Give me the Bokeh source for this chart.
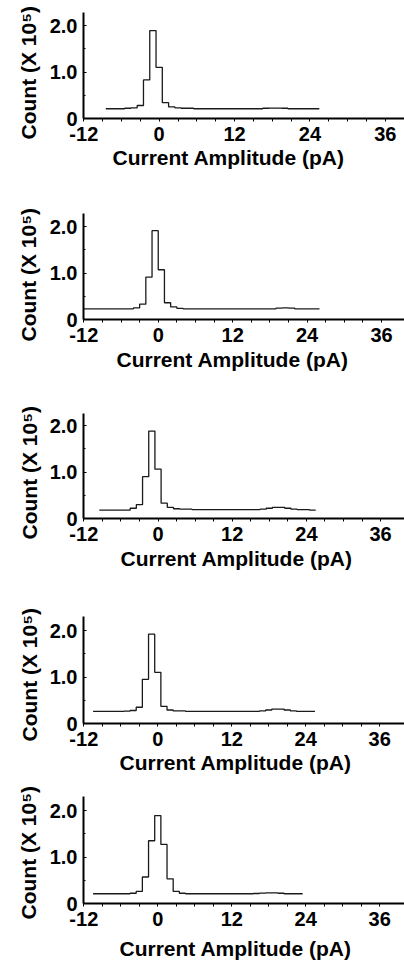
import numpy as np
from bokeh.plotting import figure
from bokeh.models import FixedTicker, Range1d, Title
from bokeh.layouts import column
from bokeh.embed import file_html
from bokeh.resources import INLINE

# ---------------- data ----------------
x_tick_values = [-12, 0, 12, 24, 36]
x_tick_labels = {-12: "-12", 0: "0", 12: "12", 24: "24", 36: "36"}
x_minor_values = [-9, -6, -3, 3, 6, 9, 15, 18, 21, 27, 30, 33]
y_tick_values = [0, 1, 2]
y_minor_values = [0.5, 1.5]
y_tick_labels = {0: "0", 1: "1.0", 2: "2.0"}
x_title = "Current Amplitude (pA)"
y_title = "Count (X 10\u2075)"

# histogram counts (x 10^5) in 1 pA bins; first bin edge in pA
p1_first_edge = -8.5
p1_counts = [0.21, 0.21, 0.21, 0.22, 0.23, 0.28, 0.83, 1.89, 1.10, 0.34,
             0.25, 0.23, 0.22, 0.22, 0.21, 0.21, 0.21, 0.21, 0.21, 0.21,
             0.21, 0.21, 0.21, 0.21, 0.21, 0.22, 0.225, 0.225, 0.22, 0.21,
             0.21, 0.21, 0.21, 0.21]

p2_first_edge = -12.0
p2_counts = [0.23, 0.23, 0.23, 0.23, 0.23, 0.23, 0.23, 0.23, 0.25, 0.33,
             0.91, 1.91, 1.07, 0.36, 0.27, 0.24, 0.23, 0.23, 0.23, 0.23,
             0.23, 0.23, 0.23, 0.23, 0.23, 0.23, 0.23, 0.23, 0.23, 0.23,
             0.23, 0.245, 0.25, 0.245, 0.23, 0.23, 0.23, 0.23]

p3_first_edge = -9.5
p3_counts = [0.18, 0.18, 0.18, 0.18, 0.18, 0.22, 0.30, 0.90, 1.88, 1.06,
             0.33, 0.24, 0.21, 0.20, 0.20, 0.19, 0.19, 0.19, 0.19, 0.19,
             0.19, 0.19, 0.19, 0.19, 0.19, 0.19, 0.20, 0.22, 0.24, 0.24,
             0.22, 0.20, 0.19, 0.19, 0.18]

p4_first_edge = -10.5
p4_counts = [0.26, 0.26, 0.26, 0.26, 0.26, 0.265, 0.28, 0.35, 0.95, 1.92,
             1.10, 0.37, 0.29, 0.27, 0.27, 0.26, 0.26, 0.26, 0.26, 0.26,
             0.26, 0.26, 0.26, 0.26, 0.26, 0.26, 0.26, 0.27, 0.29, 0.31,
             0.31, 0.29, 0.27, 0.26, 0.26, 0.26]

p5_first_edge = -10.5
p5_counts = [0.21, 0.21, 0.21, 0.21, 0.21, 0.21, 0.22, 0.26, 0.57, 1.35,
             1.89, 1.27, 0.53, 0.26, 0.22, 0.21, 0.21, 0.21, 0.21, 0.21,
             0.21, 0.21, 0.21, 0.21, 0.21, 0.21, 0.215, 0.225, 0.23, 0.23,
             0.22, 0.21, 0.21, 0.21]

panels_data = [
    (p1_first_edge, p1_counts),
    (p2_first_edge, p2_counts),
    (p3_first_edge, p3_counts),
    (p4_first_edge, p4_counts),
    (p5_first_edge, p5_counts),
]

# ---------------- layout (pixels) ----------------
FIG_W = 404
PX_PER_PA = 6.28
PX_PER_UNIT_Y = 46.5
X_START = -12.05
FONT = "Liberation Sans"

# height, border_top, border_bottom, frame_left,
# ytitle standoff, ytitle offset, xtitle standoff, xtitle offset
layouts = [
    (190, 12, 72, 83, 14, -21, 0, 29),
    (200, 23, 71, 79, 14, -22, 2, 33),
    (200, 23, 72, 78, 11, -21, 2, 37),
    (188, 26, 55, 77, 11, -18, 1, 36),
    (190, 18, 65, 77, 14, -16, 12, 36),
]

figs = []
for (first_edge, counts), (H, T, B, L, ysd, yoff, xsd, xoff) in zip(panels_data, layouts):
    frame_h = H - T - B
    x_end = X_START + (FIG_W - L) / PX_PER_PA
    y_end = frame_h / PX_PER_UNIT_Y
    p = figure(width=FIG_W, height=H,
               x_range=Range1d(X_START, x_end), y_range=Range1d(0, y_end),
               output_backend="svg", toolbar_location=None,
               min_border_left=L, min_border_right=0,
               min_border_top=T, min_border_bottom=B)
    p.outline_line_color = None
    p.background_fill_color = "white"
    p.border_fill_color = "white"
    p.xgrid.grid_line_color = None
    p.ygrid.grid_line_color = None

    edges = np.arange(first_edge, first_edge + len(counts) + 0.5, 1.0)
    vals = list(counts) + [counts[-1]]
    p.step(x=edges, y=vals, mode="after", line_color="#1a1a1a", line_width=1.3)

    for ax in (p.xaxis[0], p.yaxis[0]):
        ax.axis_line_width = 2
        ax.axis_line_color = "black"
        ax.major_tick_line_color = "black"
        ax.minor_tick_line_color = "black"
        ax.major_label_text_font = FONT
        ax.major_label_text_font_style = "bold"
        ax.major_label_text_font_size = "20px"
        ax.major_label_text_color = "black"
        ax.axis_label = None

    xa = p.xaxis[0]
    xa.ticker = FixedTicker(ticks=x_tick_values, minor_ticks=x_minor_values)
    xa.major_label_overrides = x_tick_labels
    xa.major_tick_out = 3
    xa.major_tick_in = 0
    xa.minor_tick_out = 3
    xa.minor_tick_in = 0
    xa.major_label_standoff = 5

    ya = p.yaxis[0]
    ya.ticker = FixedTicker(ticks=y_tick_values, minor_ticks=y_minor_values)
    ya.major_label_overrides = y_tick_labels
    ya.major_tick_out = 0
    ya.major_tick_in = 3
    ya.minor_tick_out = 0
    ya.minor_tick_in = 2
    ya.major_label_standoff = 6

    p.add_layout(Title(text=y_title, align="left", offset=yoff, standoff=ysd,
                       text_font=FONT, text_font_style="bold",
                       text_font_size="21px", text_color="black"), "left")
    p.add_layout(Title(text=x_title, align="left", offset=xoff, standoff=xsd,
                       text_font=FONT, text_font_style="bold",
                       text_font_size="21px", text_color="black"), "below")
    figs.append(p)

layout = column(*figs, spacing=0)
open("out.html", "w").write(file_html(layout, INLINE))
